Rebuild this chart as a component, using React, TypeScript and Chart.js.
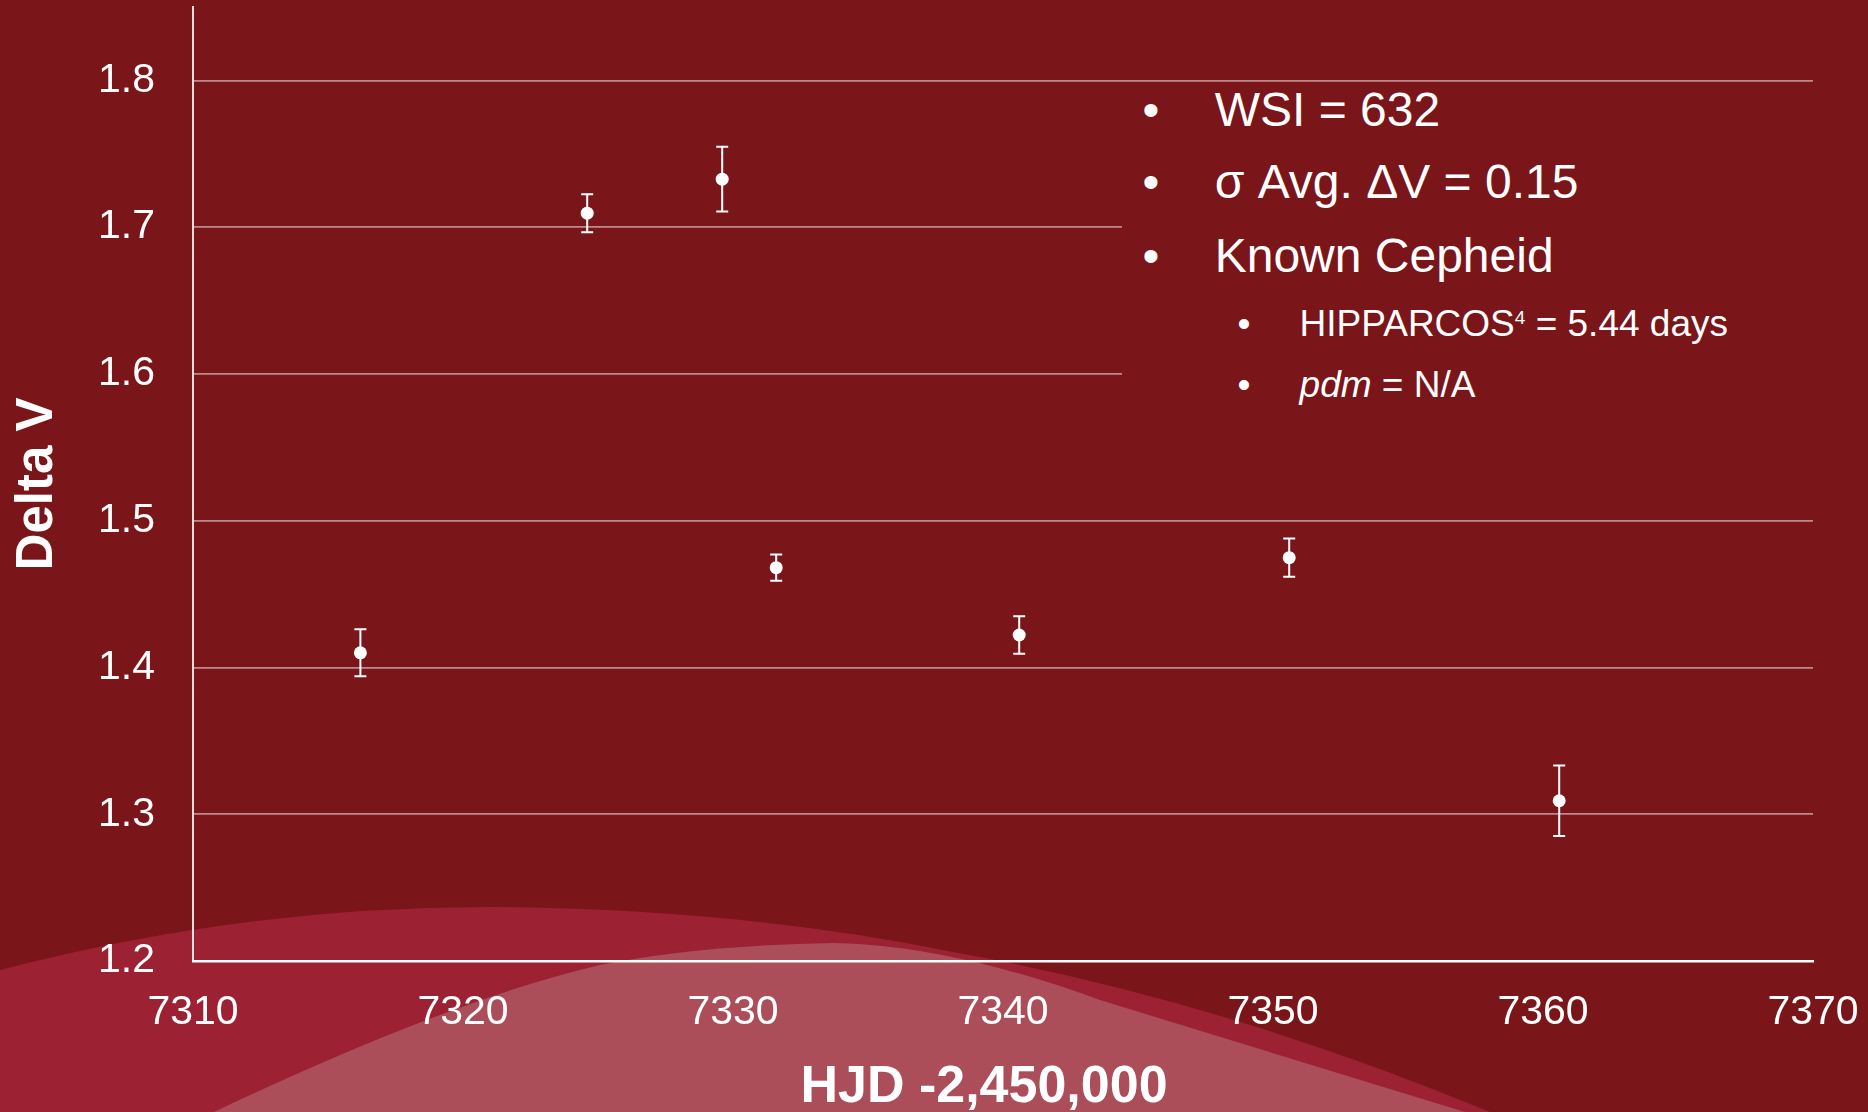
import React, { useEffect, useRef } from "react";
import { Chart, registerables } from "chart.js";

Chart.register(...registerables);

// ---- data ----
const hjd = [7316.2, 7324.6, 7329.6, 7331.6, 7340.6, 7350.6, 7360.6];
const deltaV = [1.41, 1.7095, 1.7327, 1.468, 1.4221, 1.4748, 1.3092];
const deltaVErr = [0.016, 0.013, 0.022, 0.009, 0.0128, 0.013, 0.024];
const xTicks = [7310, 7320, 7330, 7340, 7350, 7360, 7370];
const yTicks = [1.2, 1.3, 1.4, 1.5, 1.6, 1.7, 1.8];
const xTitle = "HJD -2,450,000";
const yTitle = "Delta V";

const BG = "#7a1519";
const FONT = "'Liberation Sans', Arial, sans-serif";

const errorBarPlugin = {
  id: "errorBars",
  beforeDatasetsDraw(chart: any) {
    const { ctx, scales } = chart;
    const xs = scales.x;
    const ys = scales.y;
    ctx.save();
    ctx.strokeStyle = "#ffffff";
    ctx.lineWidth = 2;
    hjd.forEach((h, i) => {
      const px = xs.getPixelForValue(h);
      const top = ys.getPixelForValue(deltaV[i] + deltaVErr[i]);
      const bot = ys.getPixelForValue(deltaV[i] - deltaVErr[i]);
      ctx.beginPath();
      ctx.moveTo(px, top);
      ctx.lineTo(px, bot);
      ctx.moveTo(px - 6, top);
      ctx.lineTo(px + 6, top);
      ctx.moveTo(px - 6, bot);
      ctx.lineTo(px + 6, bot);
      ctx.stroke();
    });
    ctx.restore();
  },
};

const xTitlePlugin = {
  id: "xTitle",
  afterDraw(chart: any) {
    const { ctx, chartArea } = chart;
    ctx.save();
    ctx.fillStyle = "#ffffff";
    ctx.font = `bold 52px ${FONT}`;
    ctx.textAlign = "center";
    ctx.textBaseline = "alphabetic";
    const cx = (chartArea.left + chartArea.right) / 2 - 19;
    ctx.fillText(xTitle, cx, 1101.5);
    ctx.restore();
  },
};

export default function App() {
  const canvasRef = useRef<HTMLCanvasElement | null>(null);

  useEffect(() => {
    document.body.style.margin = "0";
    const canvas = canvasRef.current;
    if (!canvas) return;
    const chart = new Chart(canvas, {
      type: "scatter",
      data: {
        datasets: [
          {
            label: "Delta V",
            data: hjd.map((h, i) => ({ x: h, y: deltaV[i] })),
            backgroundColor: "#ffffff",
            borderColor: "#ffffff",
            borderWidth: 0,
            pointRadius: 6.5,
            pointHoverRadius: 6.5,
          },
        ],
      },
      options: {
        animation: false,
        responsive: false,
        devicePixelRatio: 1,
        layout: { padding: { left: 0, right: 55, top: 7, bottom: 0 } },
        plugins: {
          legend: { display: false },
          tooltip: { enabled: false },
          title: { display: false },
        },
        scales: {
          x: {
            type: "linear",
            min: 7310,
            max: 7370,
            afterBuildTicks: (scale: any) => {
              scale.ticks = xTicks.map((v) => ({ value: v }));
            },
            afterFit: (scale: any) => {
              scale.height = 151;
              scale.paddingLeft = 0;
              scale.paddingRight = 0;
            },
            grid: {
              display: true,
              drawOnChartArea: false,
              drawTicks: false,
              color: "rgba(0,0,0,0)",
            },
            border: { display: true, color: "#ffffff", width: 2.5 },
            ticks: {
              color: "#ffffff",
              font: { family: FONT, size: 41 },
              padding: 27,
              maxRotation: 0,
              autoSkip: false,
              callback: (v: any) => String(v),
            },
          },
          y: {
            type: "linear",
            min: 1.2,
            max: 1.85,
            afterBuildTicks: (scale: any) => {
              scale.ticks = yTicks.map((v) => ({ value: v }));
            },
            afterFit: (scale: any) => {
              scale.width = 193;
              scale.paddingTop = 0;
              scale.paddingBottom = 0;
            },
            grid: {
              color: "rgba(255,255,255,0.5)",
              lineWidth: 1.75,
              drawTicks: false,
            },
            border: { display: true, color: "rgba(255,255,255,0.85)", width: 2 },
            ticks: {
              color: "#ffffff",
              font: { family: FONT, size: 41 },
              padding: 38,
              autoSkip: false,
              callback: (v: any) => Number(v).toFixed(1),
            },
            title: {
              display: true,
              text: yTitle,
              color: "#ffffff",
              font: { family: FONT, size: 51, weight: "bold" },
              padding: { top: 7, bottom: 0 },
            },
          },
        },
      },
      plugins: [errorBarPlugin, xTitlePlugin],
    });
    return () => chart.destroy();
  }, []);

  const mainLine = (top: number, content: React.ReactNode) => (
    <>
      <div style={{ position: "absolute", left: 1142.6, top, fontSize: 48, lineHeight: "48px", fontFamily: FONT, color: "#fff" }}>•</div>
      <div style={{ position: "absolute", left: 1214.7, top, fontSize: 48, lineHeight: "48px", fontFamily: FONT, color: "#fff", whiteSpace: "nowrap" }}>{content}</div>
    </>
  );
  const subLine = (top: number, content: React.ReactNode) => (
    <>
      <div style={{ position: "absolute", left: 1237.5, top, fontSize: 37, lineHeight: "37px", fontFamily: FONT, color: "#fff" }}>•</div>
      <div style={{ position: "absolute", left: 1299.6, top, fontSize: 37, lineHeight: "37px", fontFamily: FONT, color: "#fff", whiteSpace: "nowrap" }}>{content}</div>
    </>
  );

  return (
    <div style={{ position: "relative", width: 1868, height: 1112, background: BG, overflow: "hidden" }}>
      <svg width={1868} height={1112} viewBox="0 0 1868 1112" style={{ position: "absolute", left: 0, top: 0 }}>
        <path d="M0,970 Q250,905 500,907 Q750,910 953,952 Q1220,1000 1490,1112 L0,1112 Z" fill="#9b2133" />
        <path d="M214,1112 Q450,1000 600,965 Q700,945 834,943 Q950,945 1100,1000 L1465,1112 Z" fill="#ab4e59" />
      </svg>
      <canvas ref={canvasRef} width={1868} height={1112} style={{ position: "absolute", left: 0, top: 0, width: 1868, height: 1112 }} />
      <div style={{ position: "absolute", left: 1122, top: 81.5, width: 691, height: 338, background: BG }} />
      {mainLine(86, "WSI = 632")}
      {mainLine(157.7, "σ Avg. ΔV = 0.15")}
      {mainLine(231.7, "Known Cepheid")}
      {subLine(304.7, (
        <>
          HIPPARCOS<span style={{ fontSize: 19, position: "relative", top: -12 }}>4</span> = 5.44 days
        </>
      ))}
      {subLine(365.7, (
        <>
          <i>pdm</i> = N/A
        </>
      ))}
    </div>
  );
}
